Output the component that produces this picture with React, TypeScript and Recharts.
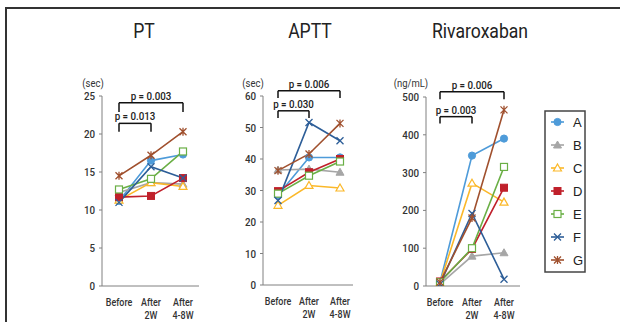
import React from 'react';
import { LineChart, Line, XAxis, YAxis, ReferenceLine } from 'recharts';

// ---------- data ----------
const categories = ['Before', 'After 2W', 'After 4-8W'];
const seriesKeys = ['A', 'B', 'C', 'D', 'E', 'F', 'G'];

// PT (sec)
const ptA = [11.2, 16.5, 17.3];
const ptB = [12.3, 13.6, 13.4];
const ptC = [11.3, 13.6, 13.1];
const ptD = [11.7, 11.85, 14.2];
const ptE = [12.7, 14.1, 17.7];
const ptF = [11.0, 15.7, 14.2];
const ptG = [14.5, 17.2, 20.3];

// APTT (sec)
const apttA = [28.5, 40.5, 40.5];
const apttB = [36.5, 36.8, 35.8];
const apttC = [25.3, 31.6, 30.8];
const apttD = [29.8, 35.8, 40.0];
const apttE = [29.0, 34.7, 39.2];
const apttF = [26.8, 51.6, 45.8];
const apttG = [36.3, 41.6, 51.3];

// Rivaroxaban (ng/mL)
const rivA = [10, 345, 390];
const rivB = [5, 79, 88];
const rivC = [8, 272, 222];
const rivD = [12, 98, 260];
const rivE = [10, 100, 315];
const rivF = [5, 192, 18];
const rivG = [10, 180, 466];

const ptTicks = [0, 5, 10, 15, 20, 25];
const apttTicks = [0, 10, 20, 30, 40, 50, 60];
const rivTicks = [0, 100, 200, 300, 400, 500];

const ptP = ['p = 0.003', 'p = 0.013'];
const apttP = ['p = 0.006', 'p = 0.030'];
const rivP = ['p = 0.006', 'p = 0.003'];

// ---------- styles ----------
const COLORS: Record<string, string> = {
  A: '#4e9bd9',
  B: '#a6a6a6',
  C: '#fbb829',
  D: '#c0202b',
  E: '#6aaf45',
  F: '#2d5e98',
  G: '#a0502e',
};
const SHAPES: Record<string, string> = {
  A: 'circle',
  B: 'triFill',
  C: 'triOpen',
  D: 'sqFill',
  E: 'sqOpen',
  F: 'x',
  G: 'star',
};

const FONT = "Roboto,'Noto Sans',sans-serif";
const PLAIN = "'Liberation Sans',Arial,sans-serif";

function build(cols: number[][]) {
  return categories.map((c, i) => {
    const row: any = { cat: c };
    seriesKeys.forEach((k, j) => (row[k] = cols[j][i]));
    return row;
  });
}

const ptData = build([ptA, ptB, ptC, ptD, ptE, ptF, ptG]);
const apttData = build([apttA, apttB, apttC, apttD, apttE, apttF, apttG]);
const rivData = build([rivA, rivB, rivC, rivD, rivE, rivF, rivG]);

function CText({
  x,
  y,
  anchor = 'middle',
  size = 11,
  weight = 'normal',
  sx = 0.85,
  fill = '#333',
  children,
}: {
  x: number;
  y: number;
  anchor?: string;
  size?: number;
  weight?: string | number;
  sx?: number;
  fill?: string;
  children: React.ReactNode;
}) {
  return (
    <text
      transform={`translate(${x} ${y}) scale(${sx} 1)`}
      x={0}
      y={0}
      textAnchor={anchor as any}
      fontSize={size}
      fontWeight={weight as any}
      fill={fill}
      fontFamily={FONT}
    >
      {children}
    </text>
  );
}

function Marker({ shape, cx, cy, color }: { shape: string; cx: number; cy: number; color: string }) {
  const s = 3.5;
  switch (shape) {
    case 'circle':
      return <circle cx={cx} cy={cy} r={3.6} fill={color} stroke={color} />;
    case 'triFill':
      return <polygon points={`${cx},${cy - 4} ${cx + 4},${cy + 3} ${cx - 4},${cy + 3}`} fill={color} stroke={color} />;
    case 'triOpen':
      return <polygon points={`${cx},${cy - 4} ${cx + 4},${cy + 3} ${cx - 4},${cy + 3}`} fill="#fff" stroke={color} strokeWidth={1.2} />;
    case 'sqFill':
      return <rect x={cx - s} y={cy - s} width={2 * s} height={2 * s} fill={color} stroke={color} />;
    case 'sqOpen':
      return <rect x={cx - s} y={cy - s} width={2 * s} height={2 * s} fill="#fff" stroke={color} strokeWidth={1.2} />;
    case 'x':
      return (
        <path d={`M${cx - s},${cy - s}L${cx + s},${cy + s}M${cx + s},${cy - s}L${cx - s},${cy + s}`} stroke={color} strokeWidth={1.3} fill="none" />
      );
    case 'star':
    default:
      return (
        <path
          d={`M${cx - s},${cy - s}L${cx + s},${cy + s}M${cx + s},${cy - s}L${cx - s},${cy + s}M${cx},${cy - s - 0.5}L${cx},${cy + s + 0.5}`}
          stroke={color}
          strokeWidth={1.3}
          fill="none"
        />
      );
  }
}

function CatTick(props: any) {
  const { x, y, payload } = props;
  const parts = String(payload.value).split(' ');
  return (
    <g>
      {parts.map((p, i) => (
        <CText key={i} x={x} y={y + 12 + i * 12.5} size={10.5} weight={500}>
          {p}
        </CText>
      ))}
    </g>
  );
}

function NumTick(props: any) {
  const { x, y, payload } = props;
  return (
    <CText x={x} y={y + 4} anchor="end" size={11.5} weight={500}>
      {payload.value}
    </CText>
  );
}

function pLabel(text: string) {
  return (props: any) => {
    const vb = props.viewBox || {};
    const cx = (vb.x || 0) + (vb.width || 0) / 2;
    return (
      <CText x={cx} y={(vb.y || 0) - 3} size={11.5} weight={500} fill="#222">
        {text}
      </CText>
    );
  };
}

type Bracket = { from: string; to: string; y: number; y2: number; label: string };

type PanelCfg = {
  data: any[];
  ticks: number[];
  axisX: number;
  axisEnd: number;
  top: number;
  bottom: number;
  padL: number;
  padR: number;
  brackets: Bracket[];
};

const W = 620;
const H = 322;
const YW = 40;
const XH = 30;

function Panel({ cfg }: { cfg: PanelCfg }) {
  const yMax = cfg.ticks[cfg.ticks.length - 1];
  return (
    <div style={{ position: 'absolute', left: 0, top: 0 }}>
      <LineChart
        width={W}
        height={H}
        data={cfg.data}
        margin={{ top: cfg.top, right: W - cfg.axisEnd, bottom: H - cfg.bottom - XH, left: cfg.axisX - YW }}
      >
        <XAxis
          dataKey="cat"
          height={XH}
          padding={{ left: cfg.padL, right: cfg.padR }}
          axisLine={{ stroke: '#808080' }}
          tickLine={false}
          tick={<CatTick />}
          interval={0}
        />
        <YAxis
          width={YW}
          domain={[0, yMax]}
          ticks={cfg.ticks}
          allowDataOverflow
          axisLine={{ stroke: '#808080' }}
          tickLine={{ stroke: '#808080' }}
          tickSize={3}
          tickMargin={4}
          tick={<NumTick />}
        />
        {seriesKeys.map((k) => (
          <Line
            key={k}
            dataKey={k}
            stroke={COLORS[k]}
            strokeWidth={1.6}
            isAnimationActive={false}
            dot={(p: any) =>
              p.cx == null ? (
                <g key={`${k}-${p.index}`} />
              ) : (
                <Marker key={`${k}-${p.index}`} shape={SHAPES[k]} cx={p.cx} cy={p.cy} color={COLORS[k]} />
              )
            }
            activeDot={false}
          />
        ))}
        {cfg.brackets.map((b, i) => (
          <ReferenceLine
            key={`h${i}`}
            segment={[
              { x: b.from, y: b.y },
              { x: b.to, y: b.y },
            ]}
            stroke="#111"
            strokeWidth={1.5}
            ifOverflow="visible"
            label={pLabel(b.label)}
          />
        ))}
        {cfg.brackets.map((b, i) => (
          <ReferenceLine
            key={`l${i}`}
            segment={[
              { x: b.from, y: b.y },
              { x: b.from, y: b.y2 },
            ]}
            stroke="#111"
            strokeWidth={1.5}
            ifOverflow="visible"
          />
        ))}
        {cfg.brackets.map((b, i) => (
          <ReferenceLine
            key={`r${i}`}
            segment={[
              { x: b.to, y: b.y },
              { x: b.to, y: b.y2 },
            ]}
            stroke="#111"
            strokeWidth={1.5}
            ifOverflow="visible"
          />
        ))}
      </LineChart>
    </div>
  );
}

const ptCfg: PanelCfg = {
  data: ptData,
  ticks: ptTicks,
  axisX: 102,
  axisEnd: 199,
  top: 96,
  bottom: 286,
  padL: 17,
  padR: 16,
  brackets: [
    { from: categories[0], to: categories[2], y: 24.1, y2: 22.9, label: ptP[0] },
    { from: categories[0], to: categories[1], y: 21.4, y2: 20.3, label: ptP[1] },
  ],
};

const apttCfg: PanelCfg = {
  data: apttData,
  ticks: apttTicks,
  axisX: 263,
  axisEnd: 353,
  top: 96,
  bottom: 285,
  padL: 15,
  padR: 13,
  brackets: [
    { from: categories[0], to: categories[2], y: 61.7, y2: 59.4, label: apttP[0] },
    { from: categories[0], to: categories[1], y: 55.3, y2: 53.0, label: apttP[1] },
  ],
};

const rivCfg: PanelCfg = {
  data: rivData,
  ticks: rivTicks,
  axisX: 426,
  axisEnd: 520,
  top: 97,
  bottom: 286,
  padL: 14,
  padR: 16,
  brackets: [
    { from: categories[0], to: categories[2], y: 514, y2: 494, label: rivP[0] },
    { from: categories[0], to: categories[1], y: 448, y2: 430, label: rivP[1] },
  ],
};

export default function App() {
  return (
    <div style={{ position: 'absolute', left: 0, top: 0, width: W, height: H, overflow: 'hidden', background: '#fff' }}>
      <div
        style={{
          position: 'absolute',
          left: 5,
          top: 7,
          width: 800,
          height: 500,
          borderLeft: '2px solid #333',
          borderTop: '2px solid #333',
        }}
      />
      <Panel cfg={ptCfg} />
      <Panel cfg={apttCfg} />
      <Panel cfg={rivCfg} />
      <svg width={W} height={H} style={{ position: 'absolute', left: 0, top: 0, pointerEvents: 'none' }}>
        <CText x={144} y={38} size={20} sx={0.88} fill="#222">PT</CText>
        <CText x={310} y={38} size={20} sx={0.88} fill="#222">APTT</CText>
        <CText x={480} y={38} size={20} sx={0.88} fill="#222">Rivaroxaban</CText>
        <CText x={93} y={87} size={10.5} sx={0.9}>(sec)</CText>
        <CText x={253} y={87} size={10.5} sx={0.9}>(sec)</CText>
        <CText x={411} y={87} size={10.5} sx={0.9}>(ng/mL)</CText>
        <rect x={545} y={111} width={40} height={161} fill="#fff" stroke="#444" strokeWidth={1.5} />
        {seriesKeys.map((k, i) => {
          const y = 122 + i * 23;
          return (
            <g key={k}>
              <line x1={551} x2={564} y1={y} y2={y} stroke={COLORS[k]} strokeWidth={1.6} />
              <Marker shape={SHAPES[k]} cx={557.5} cy={y} color={COLORS[k]} />
              <text x={573} y={y + 4.5} fontSize={13} fill="#222" fontFamily={PLAIN}>{k}</text>
            </g>
          );
        })}
      </svg>
    </div>
  );
}
